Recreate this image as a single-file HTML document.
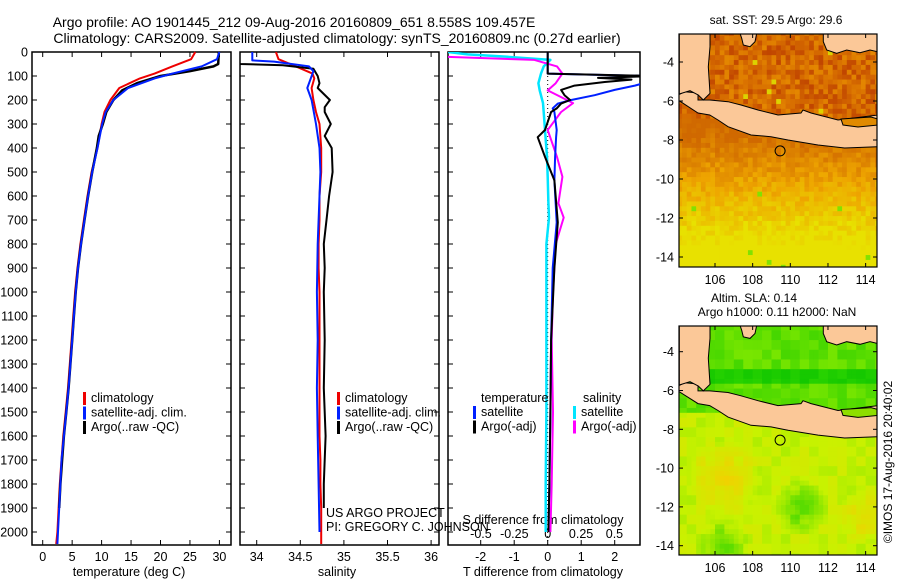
<!DOCTYPE html>
<html><head><meta charset="utf-8">
<style>
html,body{margin:0;padding:0;background:#fff;}
svg{display:block;font-family:"Liberation Sans",sans-serif;}
text{fill:#000;}
</style></head>
<body>
<svg id="fig" width="900" height="580" viewBox="0 0 900 580" xmlns="http://www.w3.org/2000/svg">
<text x="294" y="27" font-size="14" text-anchor="middle">Argo profile: AO 1901445_212 09-Aug-2016 20160809_651 8.558S 109.457E</text>
<text x="337" y="43" font-size="14" text-anchor="middle">Climatology: CARS2009. Satellite-adjusted climatology: synTS_20160809.nc (0.27d earlier)</text>
<g id="p1"></g>
<g id="p2"></g>
<g id="p3"></g>
<g id="m1"></g>
<g id="m2"></g>
<text transform="translate(892,462) rotate(-90)" font-size="12" text-anchor="middle">©IMOS 17-Aug-2016 20:40:02</text>
</svg>
<script>
const NS="http://www.w3.org/2000/svg";
// ---------- data ----------
const depthTicks=[0,100,200,300,400,500,600,700,800,900,1000,1100,1200,1300,1400,1500,1600,1700,1800,1900,2000];
const tempTicks=[0,5,10,15,20,25,30];
const salTicks=[34,34.5,35,35.5,36];
const salTickLabels=["34","34.5","35","35.5","36"];
const tdTicks=[-2,-1,0,1,2];
const sdTicks=[-0.5,-0.25,0,0.25,0.5];
const sdTickLabels=["-0.5","-0.25","0","0.25","0.5"];
const climDepth=[0,30,60,90,110,150,200,250,300,400,500,600,700,800,900,1000,1100,1200,1300,1400,1500,1600,1700,1800,1900,2000,2050];
const climTemp=[25.9,25.2,22,19,16.5,13,11.5,10.5,10,9.3,8.3,7.6,7,6.4,5.9,5.5,5.2,4.9,4.6,4.3,3.9,3.5,3.2,2.9,2.7,2.5,2.3];
const satTemp=[30,29.6,27,22,19,14.5,12,10.7,10.1,9.3,8.4,7.7,7.1,6.5,6,5.6,5.3,5,4.7,4.4,4,3.6,3.2,3,2.8,2.6,2.5];
const argoDepth=[0,50,60,80,100,130,160,200,250,300,350,400,500,600,700,800,900,1000,1100,1200,1300,1400,1500,1600,1700,1800,1900];
const argoTemp=[29.9,29.8,29,25,20,16,13.5,12,10.8,10.2,9.5,9.2,8.4,7.7,7.1,6.5,6,5.6,5.3,5,4.7,4.4,4,3.6,3.3,3,2.8];
const climSal=[34.22,34.25,34.45,34.64,34.66,34.63,34.65,34.68,34.72,34.74,34.74,34.72,34.72,34.71,34.71,34.72,34.72,34.72,34.72,34.72,34.72,34.72,34.73,34.73,34.74,34.74,34.74];
const satSalDepth=[0,35,40,60,80,150,200,300,400,500,600,800,1000,1200,1400,1600,1800,2000];
const satSal=[33.95,33.95,34.2,34.6,34.65,34.58,34.63,34.68,34.72,34.73,34.72,34.7,34.69,34.7,34.69,34.7,34.71,34.72];
const argoSalDepth=[0,50,55,70,100,130,150,200,230,250,300,350,400,500,600,700,800,900,1000,1200,1400,1600,1800,1900];
const argoSal=[33.8,33.8,34.3,34.65,34.7,34.72,34.7,34.84,34.78,34.78,34.85,34.78,34.86,34.87,34.83,34.8,34.77,34.78,34.77,34.78,34.77,34.79,34.77,34.77];
const sDiffDepth=[0,10,20,33,60,90,130,160,213,250,325,437,520,630,690,800,1000,1200,1500,1800,2000];
const satSdiff=[-0.75,-0.6,-0.3,0.02,-0.03,-0.05,-0.07,-0.06,-0.035,-0.03,-0.02,-0.005,0,0.005,0.01,-0.01,-0.01,-0.01,-0.01,-0.015,-0.015];
const argoSdiff=[-0.8,-0.8,-0.75,-0.1,0.07,0.11,0.06,0,0.19,0.1,0,0.07,0.11,0.08,0.12,0.06,0.04,0.03,0.04,0.03,0.02];
const tDiffDepth=[0,90,100,108,115,125,140,158,180,200,215,235,250,325,355,437,535,710,900,1200,1500,1800,2000];
const satTdiff=[0,0,3,3,3,3,2.6,2.0,1.4,0.7,0.3,0.15,0.2,0.27,0.25,0.22,0.2,0.27,0.15,0.1,0.08,0.05,0.02];
const argoTdiff=[0,0,3.2,1.5,2.5,1.7,0.8,0.4,0.5,0.67,0.4,0.27,0.1,-0.08,-0.3,-0.08,0.2,0.3,0.2,0.1,0.08,0.05,0.02];
const lonTicks=[106,108,110,112,114];
const latTicks=[-4,-6,-8,-10,-12,-14];
// coastlines in map-pixel units (3x scale relative to the map frame)
const javaCoast=[[114,285],[134,275],[174,279],[174,300],[209,300],[264,305],[303,315],[354,330],[414,345],[483,339],[489,330],[513,339],[594,360],[714,345],[714,440],[614,444],[534,435],[444,420],[393,410],[333,405],[264,380],[234,360],[209,345],[174,339],[114,300]];
const straitSea=[[603,357],[693,351],[714,357],[714,375],[654,381],[609,375]];
const westCoast=[[118,100],[210,100],[210,140],[205,200],[210,280],[190,300],[175,285],[150,272],[118,282]];
const northEastCoast=[[550,100],[712,100],[712,155],[690,150],[660,158],[620,150],[590,160],[560,150],[550,125]];
const islet=[[300,100],[350,100],[345,125],[330,140],[310,135],[305,115]];
const argoLon=109.457, argoLat=-8.558;
// ---------- helpers ----------
function el(tag,attrs,parent){const e=document.createElementNS(NS,tag);for(const k in attrs)e.setAttribute(k,attrs[k]);parent.appendChild(e);return e;}
function txt(s,x,y,size,anchor,parent){const t=el('text',{x:x,y:y,'font-size':size,'text-anchor':anchor||'start'},parent);t.textContent=s;return t;}
const yTop=52,yBot=545;
const yD=d=>52+d*0.24;
function profile(g,xs,ds,color,w,name){let p='';for(let i=0;i<ds.length;i++){p+=(i?'L':'M')+xs[i].toFixed(1)+','+yD(ds[i]).toFixed(1);}const e=el('path',{d:p,fill:'none',stroke:color,'stroke-width':w,'stroke-linejoin':'round'},g);


return e;}
function frame(g,x0,x1){const r=el('rect',{x:x0,y:yTop,width:x1-x0,height:yBot-yTop,fill:'none',stroke:'#000','stroke-width':1.5},g);

}
function legend(g,x,y,items){items.forEach((it,i)=>{const yy=y+i*14.5;const b=el('rect',{x:x,y:yy-10,width:3,height:13,fill:it[0]},g);


const t=txt(it[1],x+8,yy,12.5,'start',g);

});}
// ---------- panel 1 ----------
(function(){const g=document.getElementById('p1');const x0=32,x1=231;const xT=t=>42.7+t*5.89;
frame(g,x0,x1);
depthTicks.forEach(d=>{el('line',{x1:x0,x2:x0+5,y1:yD(d),y2:yD(d),stroke:'#000'},g);el('line',{x1:x1,x2:x1-5,y1:yD(d),y2:yD(d),stroke:'#000'},g);const t=txt(String(d),x0-4,yD(d)+4.5,12.5,'end',g);

});
tempTicks.forEach(v=>{el('line',{x1:xT(v),x2:xT(v),y1:yBot,y2:yBot-5,stroke:'#000'},g);el('line',{x1:xT(v),x2:xT(v),y1:yTop,y2:yTop+5,stroke:'#000'},g);const t=txt(String(v),xT(v),561,12.5,'middle',g);

});
const xl=txt('temperature (deg C)',129,576,12.5,'middle',g);


profile(g,climTemp.map(xT),climDepth,'#e00',2,'climatology-temp-line');
profile(g,argoTemp.map(xT),argoDepth,'#000',2.5,'argo-temp-line');
profile(g,satTemp.map(xT),climDepth,'#0020ff',2,'satellite-temp-line');
legend(g,83,402,[['#e00','climatology'],['#0020ff','satellite-adj. clim.'],['#000','Argo(..raw -QC)']]);})();
// ---------- panel 2 ----------
(function(){const g=document.getElementById('p2');const x0=240,x1=439;const xS=s=>256.7+(s-34)*87.2;
frame(g,x0,x1);
depthTicks.forEach(d=>{el('line',{x1:x0,x2:x0+5,y1:yD(d),y2:yD(d),stroke:'#000'},g);el('line',{x1:x1,x2:x1-5,y1:yD(d),y2:yD(d),stroke:'#000'},g);});
salTicks.forEach((v,i)=>{el('line',{x1:xS(v),x2:xS(v),y1:yBot,y2:yBot-5,stroke:'#000'},g);el('line',{x1:xS(v),x2:xS(v),y1:yTop,y2:yTop+5,stroke:'#000'},g);const t=txt(salTickLabels[i],xS(v),561,12.5,'middle',g);

});
const xl=txt('salinity',337,576,12.5,'middle',g);


const cl=el('clipPath',{id:'c2'},g);el('rect',{x:x0,y:yTop,width:x1-x0,height:yBot-yTop},cl);
const inner=el('g',{'clip-path':'url(#c2)'},g);
profile(inner,climSal.map(xS),climDepth,'#e00',2,'climatology-salinity-line');
profile(inner,argoSal.map(xS),argoSalDepth,'#000',2,'argo-salinity-line');
profile(inner,satSal.map(xS),satSalDepth,'#0020ff',2,'satellite-salinity-line');
legend(g,337,402,[['#e00','climatology'],['#0020ff','satellite-adj. clim.'],['#000','Argo(..raw -QC)']]);
const a=txt('US ARGO PROJECT',326,517,12.5,'start',g);
const b=txt('PI: GREGORY C. JOHNSON',326,531,12.5,'start',g);})();
// ---------- panel 3 ----------
(function(){const g=document.getElementById('p3');const x0=448,x1=640;const xT=t=>547.7+t*33.5;const xS=s=>547.7+s*133.5;
frame(g,x0,x1);
depthTicks.forEach(d=>{el('line',{x1:x0,x2:x0+5,y1:yD(d),y2:yD(d),stroke:'#000'},g);});
tdTicks.forEach(v=>{el('line',{x1:xT(v),x2:xT(v),y1:yBot,y2:yBot-5,stroke:'#000'},g);el('line',{x1:xT(v),x2:xT(v),y1:yTop,y2:yTop+5,stroke:'#000'},g);const t=txt(String(v),xT(v),561,12.5,'middle',g);

});
sdTicks.forEach((v,i)=>{const t=txt(sdTickLabels[i],xS(v),538,12.5,'middle',g);

});
const t1=txt('T difference from climatology',543,576,12.5,'middle',g);
const t2=txt('S difference from climatology',543,524,12.5,'middle',g);
el('line',{x1:xT(0),x2:xT(0),y1:yTop,y2:yBot,stroke:'#000','stroke-dasharray':'1,3'},g);
const cl=el('clipPath',{id:'c3'},g);el('rect',{x:x0,y:yTop,width:x1-x0,height:yBot-yTop},cl);
const inner=el('g',{'clip-path':'url(#c3)'},g);
profile(inner,satSdiff.map(xS),sDiffDepth,'#00e5ff',2.5,'satellite-s-diff-line');
profile(inner,argoSdiff.map(xS),sDiffDepth,'#ff00ff',2,'argo-s-diff-line');
profile(inner,satTdiff.map(xT),tDiffDepth,'#0020ff',2,'satellite-t-diff-line');
profile(inner,argoTdiff.map(xT),tDiffDepth,'#000',2,'argo-t-diff-line');
const h1=txt('temperature',481,402,12.5,'start',g);
const h2=txt('salinity',583,402,12.5,'start',g);
legend(g,473,416,[['#0020ff','satellite'],['#000','Argo(-adj)']]);
legend(g,573,416,[['#00e5ff','satellite'],['#ff00ff','Argo(-adj)']]);})();
// ---------- maps ----------
function hash(i,j,s){let h=(i*374761393+j*668265263+s*982451653)|0;h=(h^(h>>>13))*1274126177|0;h=h^(h>>>16);return ((h>>>0)%1000)/1000;}
function lerp(a,b,t){return a.map((v,k)=>Math.round(v+(b[k]-v)*t));}
function sstColor(lon,lat,i,j){let n=hash(i,j,1);let t;
if(lat>-7){t=Math.max(0,Math.min(1,0.4+(n-0.5)*0.7));}
else{t=(-lat-7.5)/5.5;t=Math.max(0,Math.min(1,t+(n-0.5)*0.3));}
let c;if(lat>-7)c=t<0.5?lerp([190,65,0],[218,115,0],t*2):lerp([218,115,0],[238,155,0],(t-0.5)*2);
else c=t<0.5?lerp([208,105,0],[238,165,0],t*2):lerp([238,165,0],[232,225,0],(t-0.5)*2);
if(n>0.988&&lat<-10)c=[130,225,0];if(n>0.99&&lat>-7)c=[220,210,0];return 'rgb('+c+')';}
function slaColor(lon,lat,i,j){const bi=Math.floor(i/2),bj=Math.floor(j/2);let n=hash(bi,bj,2);let c;
if(lat>-7.2){const band=(lat<-4.9&&lat>-5.6)?1:0;c=band?lerp([40,210,0],[20,200,0],n):lerp([120,230,0],[70,215,0],n);}
else{let t=0.5+(n-0.5)*0.25;const d1=Math.hypot(lon-106.5,lat+10.5),d2=Math.hypot(lon-114,lat+12.5),d3=Math.hypot(lon-110.5,lat+12),d4=Math.hypot(lon-106.5,lat+14);
t+=Math.max(0,1-d1/2)*0.5+Math.max(0,1-d2/1.5)*0.4-Math.max(0,1-d3/1.5)*0.6-Math.max(0,1-d4/1.5)*0.5;t=Math.max(0,Math.min(1,t));
c=t<0.5?lerp([90,220,0],[200,242,0],t*2):lerp([200,242,0],[240,210,0],(t-0.5)*2);}
return 'rgb('+c+')';}
function drawMap(id,y0,y1,latA,pxLat,colorFn,seaFill,titles){const g=document.getElementById(id);const x0=679,x1=877;const X=l=>715+(l-106)*18.83,Y=l=>latA+(-4-l)*pxLat;
const sy=(y1-y0)/233;const CX=zx=>640+zx/3,CY=zy=>y0+(zy/3-34)*sy;
const cl=el('clipPath',{id:'cl'+id},g);el('rect',{x:x0,y:y0,width:x1-x0,height:y1-y0},cl);
const inner=el('g',{'clip-path':'url(#cl'+id+')'},g);
const step=0.25;let i=0;for(let lon=104;lon<114.8;lon+=step,i++){let j=0;for(let lat=-2.4;lat>-14.8;lat-=step,j++){el('rect',{x:X(lon).toFixed(2),y:Y(lat).toFixed(2),width:(step*18.83+0.5).toFixed(2),height:(step*pxLat+0.5).toFixed(2),fill:colorFn(lon+step/2,lat-step/2,i,j)},inner);}}
[[javaCoast,'java-land','#fbc898'],[westCoast,'west-land','#fbc898'],[northEastCoast,'borneo-land','#fbc898'],[islet,'islet-land','#fbc898'],[straitSea,'madura-strait',seaFill]].forEach(([poly,nm,fc])=>{const p=el('polygon',{points:poly.map(q=>CX(q[0]).toFixed(1)+','+CY(q[1]).toFixed(1)).join(' '),fill:fc,stroke:'#000','stroke-width':1},inner);

});
const c=el('circle',{cx:X(argoLon),cy:Y(argoLat),r:5,fill:'none',stroke:'#000','stroke-width':1},inner);


const f=el('rect',{x:x0,y:y0,width:x1-x0,height:y1-y0,fill:'none',stroke:'#000','stroke-width':1.2},g);


lonTicks.forEach(l=>{el('line',{x1:X(l),x2:X(l),y1:y1,y2:y1-4,stroke:'#000'},g);el('line',{x1:X(l),x2:X(l),y1:y0,y2:y0+4,stroke:'#000'},g);const t=txt(String(l),X(l),y1+17,12.5,'middle',g);

});
latTicks.forEach(l=>{el('line',{x1:x0,x2:x0+4,y1:Y(l),y2:Y(l),stroke:'#000'},g);el('line',{x1:x1,x2:x1-4,y1:Y(l),y2:Y(l),stroke:'#000'},g);const t=txt(String(l),x0-5,Y(l)+4.5,12.5,'end',g);

});
titles.forEach(tt=>{const t=txt(tt[0],tt[1],tt[2],12,'middle',g);

});}
drawMap('m1',34,267,62,19.5,sstColor,'#e08a00',[['sat. SST: 29.5 Argo: 29.6',776,24]]);
drawMap('m2',326,555,351.7,19.4,slaColor,'#8ede00',[['Altim. SLA: 0.14',754,302],['Argo h1000: 0.11 h2000: NaN',777,316]]);
</script>
</body></html>
